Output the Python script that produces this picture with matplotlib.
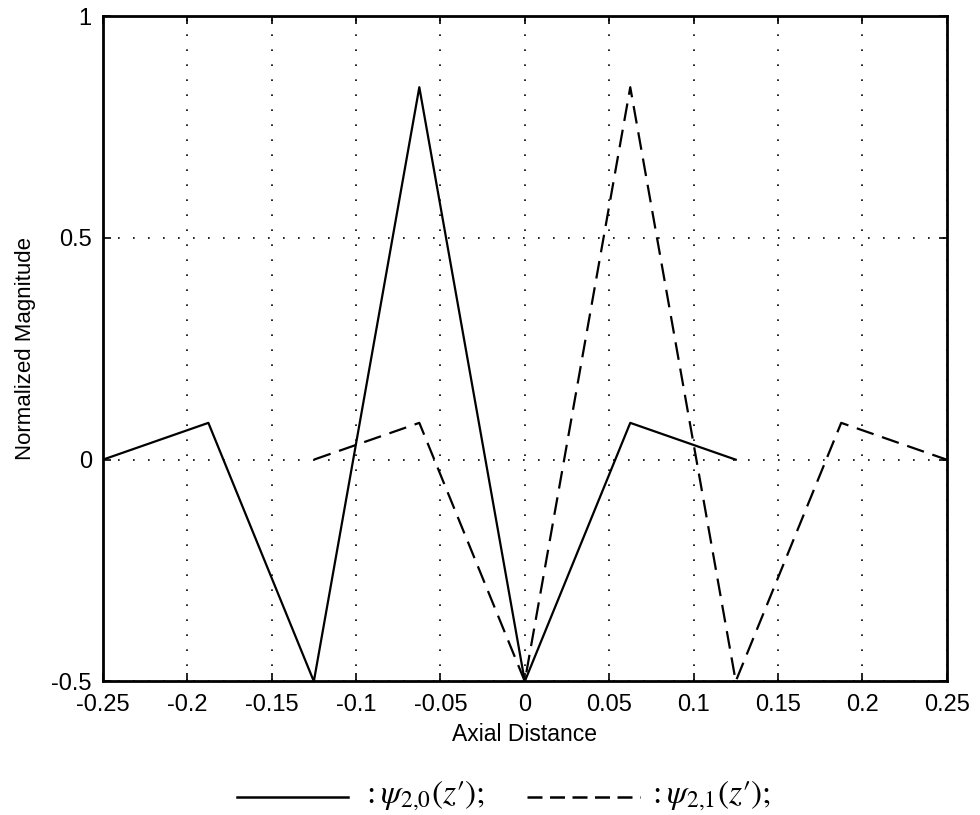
import numpy as np
import matplotlib
matplotlib.use("Agg")
import matplotlib.pyplot as plt
from matplotlib.lines import Line2D

plt.rcParams.update({"font.family": ["Liberation Sans", "DejaVu Sans"],
                     "mathtext.fontset": "stix"})

# psi_{2,0}(z') : solid
z_20 = [-0.25, -0.1875, -0.125, -0.0625, 0.0, 0.0625, 0.125]
psi_20 = [0.0, 0.083, -0.5, 0.84, -0.5, 0.083, 0.0]
# psi_{2,1}(z') : dashed
z_21 = [-0.125, -0.0625, 0.0, 0.0625, 0.125, 0.1875, 0.25]
psi_21 = [0.0, 0.083, -0.5, 0.84, -0.5, 0.083, 0.0]

xticks = [-0.25, -0.2, -0.15, -0.1, -0.05, 0, 0.05, 0.1, 0.15, 0.2, 0.25]
xticklabels = ["-0.25", "-0.2", "-0.15", "-0.1", "-0.05", "0", "0.05", "0.1", "0.15", "0.2", "0.25"]
yticks = [-0.5, 0, 0.5, 1]
yticklabels = ["-0.5", "0", "0.5", "1"]

DASH = (0, (8, 4))

fig = plt.figure(figsize=(9.8, 8.15), dpi=100)
ax = fig.add_axes([0.105, 0.164, 0.861, 0.816])
ax.plot(z_20, psi_20, color="black", lw=1.6, ls="-")
ax.plot(z_21, psi_21, color="black", lw=1.6, ls=DASH)
ax.set_xlim(-0.25, 0.25)
ax.set_ylim(-0.5, 1)
ax.set_xticks(xticks)
ax.set_xticklabels(xticklabels)
ax.set_yticks(yticks)
ax.set_yticklabels(yticklabels)
ax.grid(True, color="black", ls=(0, (1, 8)), lw=1.2)
ax.tick_params(direction="in", labelsize=17, length=6, width=1.2, top=True, right=True)
ax.tick_params(axis="x", pad=9)
ax.tick_params(axis="y", pad=8)
for s in ax.spines.values():
    s.set_linewidth(2.0)
ax.set_xlabel("Axial Distance", fontsize=16.5, labelpad=5)
ax.set_ylabel("Normalized Magnitude", fontsize=16, labelpad=11)

# legend row below the axes
ly = 1 - 797 / 815
fig.add_artist(Line2D([237 / 980, 348 / 980], [ly, ly], color="black", lw=1.8))
fig.text(362 / 980, ly + 0.002, "${:}\\psi_{2{,}0}\\left(z\u2032\\right);$", fontsize=24, va="center")
fig.add_artist(Line2D([527 / 980, 640 / 980], [ly, ly], color="black", lw=1.8, ls=(0, (6, 3))))
fig.text(648 / 980, ly + 0.002, "${:}\\psi_{2{,}1}\\left(z\u2032\\right);$", fontsize=24, va="center")

fig.savefig("out.png")
